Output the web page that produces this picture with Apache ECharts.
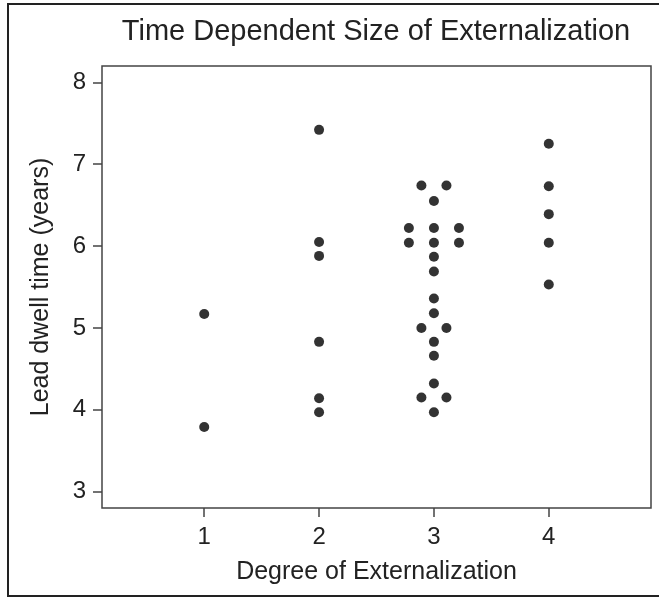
<!DOCTYPE html>
<html>
<head>
<meta charset="utf-8">
<script src="https://cdn.jsdelivr.net/npm/echarts@6/dist/echarts.min.js"></script>
<style>
  html, body { margin: 0; padding: 0; background: #fff; }
  #main { width: 659px; height: 597px; }
</style>
</head>
<body>
<div id="main"></div>
<script>
// degree of externalization (with the plot's side-by-side offsets) and dwell time
var degreeX = [
  1, 1,
  2, 2, 2, 2, 2, 2,
  2.891, 3.109, 3, 2.782, 3, 3.218, 2.782, 3, 3.218, 3, 3, 3, 3, 2.891, 3.109, 3, 3, 3, 2.891, 3.109, 3,
  4, 4, 4, 4, 4
];
var dwellY = [
  5.17, 3.79,
  7.42, 6.05, 5.88, 4.83, 4.14, 3.97,
  6.74, 6.74, 6.55, 6.22, 6.22, 6.22, 6.04, 6.04, 6.04, 5.87, 5.69, 5.36, 5.18, 5.00, 5.00, 4.83, 4.66, 4.32, 4.15, 4.15, 3.97,
  7.25, 6.73, 6.39, 6.04, 5.53
];
var xTicks = [1, 2, 3, 4];
var yTicks = [3, 4, 5, 6, 7, 8];

var points = degreeX.map(function (x, i) { return [x, dwellY[i]]; });

var font = 'Liberation Sans, Arial, sans-serif';
var myChart = echarts.init(document.getElementById('main'));
var option = {
  animation: false,
  title: {
    text: 'Time Dependent Size of Externalization',
    left: 371,
    textAlign: 'center',
    top: 12,
    textStyle: { fontFamily: font, fontSize: 29, fontWeight: 'normal', color: '#222' }
  },
  graphic: [{
    type: 'rect',
    shape: { x: 8, y: 4, width: 660, height: 592 },
    style: { fill: 'none', stroke: '#222', lineWidth: 2 },
    silent: true
  }],
  grid: {
    left: 102, right: 8, top: 66, bottom: 89,
    show: true, borderColor: '#444', borderWidth: 1.5, backgroundColor: '#fff'
  },
  xAxis: {
    type: 'value',
    min: 0.11, max: 4.89,
    name: 'Degree of Externalization',
    nameLocation: 'middle',
    nameGap: 52,
    nameTextStyle: { fontFamily: font, fontSize: 25, color: '#222' },
    axisLine: { show: false },
    splitLine: { show: false },
    axisTick: { show: true, length: 9, lineStyle: { color: '#444', width: 1.5 }, customValues: xTicks },
    axisLabel: { fontFamily: font, fontSize: 24, color: '#222', margin: 17, customValues: xTicks }
  },
  yAxis: {
    type: 'value',
    min: 2.8, max: 8.2,
    name: 'Lead dwell time (years)',
    nameLocation: 'middle',
    nameGap: 48,
    nameTextStyle: { fontFamily: font, fontSize: 25, color: '#222' },
    axisLine: { show: false },
    splitLine: { show: false },
    axisTick: { show: true, length: 9, lineStyle: { color: '#444', width: 1.5 }, customValues: yTicks },
    axisLabel: { fontFamily: font, fontSize: 24, color: '#222', margin: 16, customValues: yTicks }
  },
  series: [{
    type: 'scatter',
    data: points,
    symbol: 'circle',
    symbolSize: 10,
    itemStyle: { color: '#000' }
  }]
};
myChart.setOption(option);
window.onresize = myChart.resize;
</script>
</body>
</html>
